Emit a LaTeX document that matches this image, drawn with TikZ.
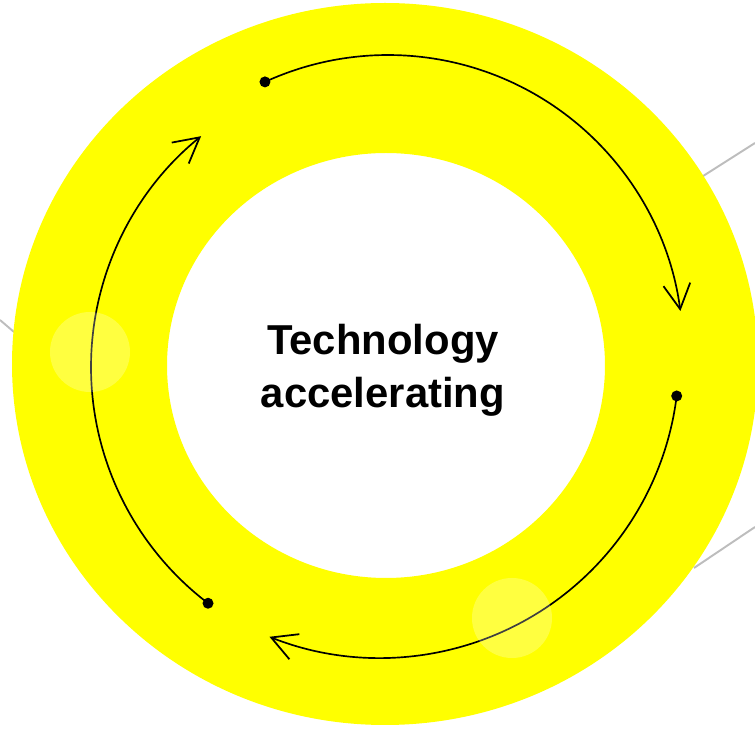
\documentclass[tikz,border=0pt]{standalone}
\usepackage{fontspec}
\setmainfont{Liberation Sans}
\usetikzlibrary{arrows.meta,calc}

\definecolor{ringyellow}{HTML}{FFFF00}
\definecolor{spokegray}{HTML}{BDBDBD}

\tikzset{
  spoke/.style={draw=spokegray, line width=1.1pt},
  dotnode/.style={circle, fill=black, inner sep=0pt, minimum size=0.22cm},
  cycle arrow/.style={draw=black, line width=0.95pt,
    -{Straight Barb[length=0.5cm, width=0.54cm, line width=1pt]}},
  glow/.style={fill=white, fill opacity=0.25},
}

\begin{document}
\begin{tikzpicture}[x=0.02cm, y=0.02cm]
    \useasboundingbox (0,0) rectangle (755,731);
    \clip (0,0) rectangle (755,731);

    % spokes behind the ring
    \coordinate (s1a) at (0,411);   \coordinate (s1b) at (14,399);
    \coordinate (s2a) at (755,588); \coordinate (s2b) at (700,553);
    \coordinate (s3a) at (755,204); \coordinate (s3b) at (694,163);
    \draw[spoke] (s1a) -- (s1b);
    \draw[spoke] (s2a) -- (s2b);
    \draw[spoke] (s3a) -- (s3b);

    % ring
    \fill[ringyellow, even odd rule]
        (385,367) ellipse [x radius=373, y radius=361]
        (386,365.5) ellipse [x radius=219, y radius=212.5];

    % centre text
    \node[font=\bfseries\fontsize{23.8pt}{30pt}\selectfont, align=center] (title)
        at (383,361) {Technology\\accelerating};

    % arc centres
    \coordinate (c1) at (388,381);
    \coordinate (c2) at (380,372);
    \coordinate (c3) at (388,364);

    % start dots
    \node[dotnode] (d1) at ($(c1)+(114.65:295)$) {};
    \node[dotnode] (d2) at ($(c2)+(-7.1:299)$) {};
    \node[dotnode] (d3) at ($(c3)+(232.7:297)$) {};

    % arcs
    \draw[cycle arrow] (d1.center) arc[start angle=114.65, end angle=7.6, radius=295];
    \draw[cycle arrow] (d2.center) arc[start angle=-7.1, end angle=-111.7, radius=299];
    \draw[cycle arrow] (d3.center) arc[start angle=232.7, end angle=129, radius=297];

    % faint highlights
    \fill[glow] (90,379) circle (40);
    \fill[glow] (512,113) circle (40);
\end{tikzpicture}
\end{document}
